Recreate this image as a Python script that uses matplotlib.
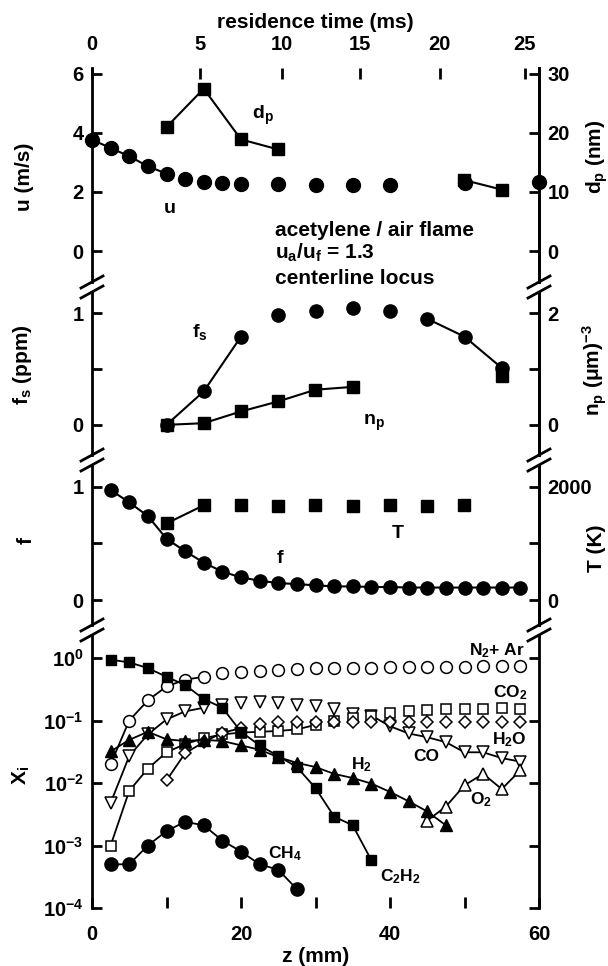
import numpy as np
import matplotlib.pyplot as plt
from matplotlib.lines import Line2D

plt.rcParams['font.family'] = ['Liberation Sans', 'DejaVu Sans']
plt.rcParams['font.weight'] = 'bold'
plt.rcParams['mathtext.fontset'] = 'custom'
plt.rcParams['mathtext.rm'] = 'Liberation Sans:bold'
plt.rcParams['mathtext.default'] = 'regular'

# ---- data ----
# top axis: residence time ticks and the z (mm) where they sit
t_ticks = [0, 5, 10, 15, 20, 25]
t_tick_z = [0, 14.5, 25.5, 36.0, 46.7, 58.1]

# panel 1: axial velocity u (m/s) and particle diameter d_p (nm)
u_z = [0, 2.5, 5, 7.5, 10, 12.5, 15, 17.5, 20, 25, 30, 35, 40, 50, 60]
u_val = [3.77, 3.49, 3.21, 2.87, 2.62, 2.45, 2.35, 2.30, 2.28, 2.28, 2.25, 2.22, 2.23, 2.30, 2.33]
dp_z = [10, 15, 20, 25, 30, 35, 40, 45, 50, 55]
dp_val = [21.0, 27.5, 18.9, 17.2, np.nan, np.nan, np.nan, np.nan, 12.0, 10.4]

# panel 2: soot volume fraction f_s (ppm) and number density n_p
fs_z = [10, 15, 20, 25, 30, 35, 40, 45, 50, 55]
fs_val = [0.0, 0.30, 0.79, 0.98, 1.02, 1.05, 1.02, 0.95, 0.79, 0.51]
np_z = [10, 15, 20, 25, 30, 35, 40, 45, 50, 55]
np_val = [0.0, 0.03, 0.24, 0.42, 0.63, 0.68, np.nan, np.nan, np.nan, 0.88]

# panel 3: mixture fraction f and temperature T (K)
f_z = [2.5, 5, 7.5, 10, 12.5, 15, 17.5, 20, 22.5, 25, 27.5, 30, 32.5, 35, 37.5,
       40, 42.5, 45, 47.5, 50, 52.5, 55, 57.5]
f_val = [0.97, 0.86, 0.74, 0.54, 0.43, 0.33, 0.25, 0.20, 0.17, 0.15, 0.14, 0.13, 0.12,
         0.12, 0.115, 0.115, 0.11, 0.11, 0.11, 0.11, 0.11, 0.11, 0.11]
T_z = [10, 15, 20, 25, 30, 35, 40, 45, 50]
T_val = [1350, 1670, 1670, 1650, 1680, 1660, 1670, 1660, 1680]

# panel 4: mole fractions X_i
z4 = [2.5, 5, 7.5, 10, 12.5, 15, 17.5, 20, 22.5, 25, 27.5, 30, 32.5, 35, 37.5,
      40, 42.5, 45, 47.5, 50, 52.5, 55, 57.5]
x_n2 = [0.02, 0.10, 0.21, 0.35, 0.45, 0.50, 0.57, 0.60, 0.62, 0.64, 0.66, 0.68, 0.69,
        0.70, 0.70, 0.71, 0.72, 0.72, 0.73, 0.73, 0.74, 0.74, 0.75]
x_co = [0.0048, 0.027, 0.06, 0.104, 0.14, 0.16, 0.18, 0.19, 0.20, 0.19, 0.18, 0.17,
        0.15, 0.125, 0.12, 0.081, 0.062, 0.054, 0.045, 0.031, 0.031, 0.025, 0.022]
x_co2 = [0.001, 0.0075, 0.017, 0.031, 0.042, 0.052, 0.060, 0.064, 0.066, 0.068, 0.072,
         0.085, 0.10, 0.11, 0.12, 0.13, 0.14, 0.145, 0.15, 0.15, 0.155, 0.16, 0.155]
h2o_z = [10, 12.5, 15, 17.5, 20, 22.5, 25, 27.5, 30, 32.5, 35, 37.5, 40, 42.5, 45,
         47.5, 50, 52.5, 55, 57.5]
x_h2o = [0.011, 0.03, 0.045, 0.064, 0.075, 0.088, 0.095, 0.095, 0.096, 0.096, 0.095,
         0.095, 0.095, 0.094, 0.094, 0.094, 0.093, 0.093, 0.093, 0.093]
c2h2_z = [2.5, 5, 7.5, 10, 12.5, 15, 17.5, 20, 22.5, 25, 27.5, 30, 32.5, 35, 37.5]
x_c2h2 = [0.94, 0.85, 0.69, 0.50, 0.37, 0.22, 0.16, 0.066, 0.04, 0.027, 0.018, 0.0083,
          0.0029, 0.0021, 0.00058]
h2_z = [2.5, 5, 7.5, 10, 12.5, 15, 17.5, 20, 22.5, 25, 27.5, 30, 32.5, 35, 37.5,
        40, 42.5, 45, 47.5]
x_h2 = [0.032, 0.049, 0.066, 0.050, 0.047, 0.049, 0.047, 0.040, 0.034, 0.026, 0.021,
        0.018, 0.014, 0.012, 0.0098, 0.0072, 0.0051, 0.0035, 0.0021]
o2_z = [45, 47.5, 50, 52.5, 55, 57.5]
x_o2 = [0.0025, 0.0042, 0.0092, 0.014, 0.008, 0.016]
ch4_z = [2.5, 5, 7.5, 10, 12.5, 15, 17.5, 20, 22.5, 25, 27.5]
x_ch4 = [5.0e-4, 5.0e-4, 1.0e-3, 1.7e-3, 2.4e-3, 2.1e-3, 1.2e-3, 8.0e-4, 5.0e-4, 4.1e-4, 2.0e-4]

# ---- layout (pixels of the 608x966 picture) ----
W, H = 608, 966
XL, XR = 92, 539
FS = 14.5


def box(top, bot):
    return [XL / W, 1 - bot / H, (XR - XL) / W, (bot - top) / H]


fig = plt.figure(figsize=(W / 100, H / 100), dpi=100)
ax1 = fig.add_axes(box(68, 282))
ax2 = fig.add_axes(box(292, 455))
ax3 = fig.add_axes(box(465, 625))
ax4 = fig.add_axes(box(635, 908))

twins = []
for ax in (ax1, ax2, ax3, ax4):
    ax.set_xlim(0, 60)
    ax.patch.set_visible(False)
    for s in ('top', 'bottom'):
        ax.spines[s].set_visible(False)
    for s in ('left', 'right'):
        ax.spines[s].set_linewidth(2)
    ax.tick_params(direction='in', length=7, width=2, labelsize=FS, pad=6)
    if ax is not ax4:
        ax.tick_params(bottom=False, labelbottom=False)
        tw = ax.twinx()
        for s in ('top', 'bottom'):
            tw.spines[s].set_visible(False)
        tw.spines['right'].set_linewidth(2)
        tw.spines['left'].set_visible(False)
        tw.tick_params(direction='in', length=7, width=2, labelsize=FS, pad=6)
        twins.append(tw)
tw1, tw2, tw3 = twins

ms_kw = dict(color='black', clip_on=False, zorder=3)

# panel 1
ax1.set_ylim(-1.05, 6.2)
tw1.set_ylim(-5.25, 31)
ax1.set_yticks([0, 2, 4, 6])
tw1.set_yticks([0, 10, 20, 30])
ax1.plot(u_z[:5], u_val[:5], '-', color='black', lw=1.5)
ax1.plot(u_z, u_val, 'o', ms=10, **ms_kw)
tw1.plot(dp_z, dp_val, 's-', ms=9, lw=1.5, **ms_kw)
ax1.text(23, 4.6, 'd$_p$', fontsize=14, ha='center', va='center')
ax1.text(10.4, 1.45, 'u', fontsize=14, ha='center', va='center')

sec = ax1.secondary_xaxis('top')
sec.spines['top'].set_visible(False)
sec.set_xticks(t_tick_z, labels=[str(t) for t in t_ticks])
sec.tick_params(direction='in', length=8, width=2, labelsize=FS, pad=10)
sec.set_xlabel('residence time (ms)', fontsize=15, fontweight='bold', labelpad=5)

# panel 2
ax2.set_ylim(-0.27, 1.19)
tw2.set_ylim(-0.54, 2.38)
ax2.set_yticks([0, 0.5, 1], labels=['0', '', '1'])
tw2.set_yticks([0, 1, 2], labels=['0', '', '2'])
ax2.plot(fs_z[:3], fs_val[:3], '-', color='black', lw=1.5)
ax2.plot(fs_z[7:], fs_val[7:], '-', color='black', lw=1.5)
ax2.plot(fs_z, fs_val, 'o', ms=9.5, **ms_kw)
tw2.plot(np_z, np_val, 's-', ms=9, lw=1.5, **ms_kw)
ax2.text(14.5, 0.83, 'f$_s$', fontsize=14, ha='center', va='center')
ax2.text(37.8, 0.02, 'n$_p$', fontsize=14, ha='center', va='center')

# panel 3
ax3.set_ylim(-0.22, 1.19)
tw3.set_ylim(-440, 2380)
ax3.set_yticks([0, 0.5, 1], labels=['0', '', '1'])
tw3.set_yticks([0, 1000, 2000], labels=['0', '', '2000'])
ax3.plot(f_z, f_val, 'o-', ms=9.5, lw=1.5, **ms_kw)
tw3.plot(T_z[:2], T_val[:2], '-', color='black', lw=1.5)
tw3.plot(T_z, T_val, 's', ms=9, **ms_kw)
ax3.text(25.2, 0.37, 'f', fontsize=14, ha='center', va='center')
ax3.text(41.1, 0.59, 'T', fontsize=14, ha='center', va='center')

# panel 4
ax4.set_yscale('log')
ax4.set_ylim(1e-4, 10 ** 0.368)
ax4.set_yticks([1e-4, 1e-3, 1e-2, 1e-1, 1],
               labels=['10$^{-4}$', '10$^{-3}$', '10$^{-2}$', '10$^{-1}$', '10$^{0}$'])
ax4.minorticks_off()
ax4.tick_params(axis='y', which='both', right=True, labelright=False)
ax4.set_xticks([0, 10, 20, 30, 40, 50, 60], labels=['0', '', '20', '', '40', '', '60'])
ax4.tick_params(axis='x', length=8, pad=12)

lw4 = 1.3
op = dict(mfc='white', mec='black', mew=1.1, ls='none', **ms_kw)
ax4.plot(z4[:6], x_n2[:6], '-', color='black', lw=lw4)
ax4.plot(z4, x_n2, 'o', ms=8.5, **op)
ax4.plot(z4[:6], x_co[:6], '-', color='black', lw=lw4)
ax4.plot(z4[14:], x_co[14:], '-', color='black', lw=lw4)
ax4.plot(z4, x_co, 'v', ms=8.5, **op)
ax4.plot(z4[:12], x_co2[:12], '-', color='black', lw=lw4)
ax4.plot(z4, x_co2, 's', ms=7.5, **op)
ax4.plot(h2o_z[:5], x_h2o[:5], '-', color='black', lw=lw4)
ax4.plot(h2o_z, x_h2o, 'D', ms=6.5, **op)
ax4.plot(o2_z, x_o2, '^-', ms=8.5, mfc='white', mec='black', mew=1.1, color='black',
         lw=lw4, clip_on=False, zorder=3)
ax4.plot(c2h2_z, x_c2h2, 's-', ms=7.5, lw=lw4, **ms_kw)
ax4.plot(h2_z, x_h2, '^-', ms=8.5, lw=lw4, **ms_kw)
ax4.plot(ch4_z, x_ch4, 'o-', ms=9.5, lw=lw4, **ms_kw)

lab = dict(fontsize=12.5, ha='center', va='center')
ax4.text(54.3, 10 ** 0.12, 'N$_2$+ Ar', **lab)
ax4.text(56.2, 10 ** -0.56, 'CO$_2$', **lab)
ax4.text(56.0, 10 ** -1.30, 'H$_2$O', **lab)
ax4.text(44.8, 10 ** -1.57, 'CO', **lab)
ax4.text(36.2, 10 ** -1.70, 'H$_2$', **lab)
ax4.text(52.2, 10 ** -2.26, 'O$_2$', **lab)
ax4.text(25.9, 10 ** -3.13, 'CH$_4$', **lab)
ax4.text(41.4, 10 ** -3.50, 'C$_2$H$_2$', **lab)

# axis titles placed in pixel positions
def ftext(px, py, s, **kw):
    fig.text(px / W, 1 - py / H, s, ha='center', va='center', fontsize=15, **kw)

ftext(24, 177, 'u (m/s)', rotation=90)
ftext(23, 365, 'f$_s$ (ppm)', rotation=90)
ftext(26, 540, 'f', rotation=90)
ftext(21, 775, 'X$_i$', rotation=90)
ftext(597, 157, 'd$_p$ (nm)', rotation=90)
ftext(595, 370, 'n$_p$ (μm)$^{-3}$', rotation=90)
ftext(597, 548, 'T (K)', rotation=90)
ftext(316, 957, 'z (mm)')

for py, s in [(230, 'acetylene / air flame'), (253, 'u$_a$/u$_f$ = 1.3'),
              (278, 'centerline locus')]:
    fig.text(275 / W, 1 - py / H, s, ha='left', va='center', fontsize=15)

# axis break marks
for yb in (287, 460, 630):
    for xb in (XL, XR):
        for dy in (-5, 5):
            fig.add_artist(Line2D([(xb - 11) / W, (xb + 11) / W],
                                  [1 - (yb + dy + 6) / H, 1 - (yb + dy - 6) / H],
                                  color='black', lw=2, transform=fig.transFigure))

fig.savefig('out.png', dpi=100)
